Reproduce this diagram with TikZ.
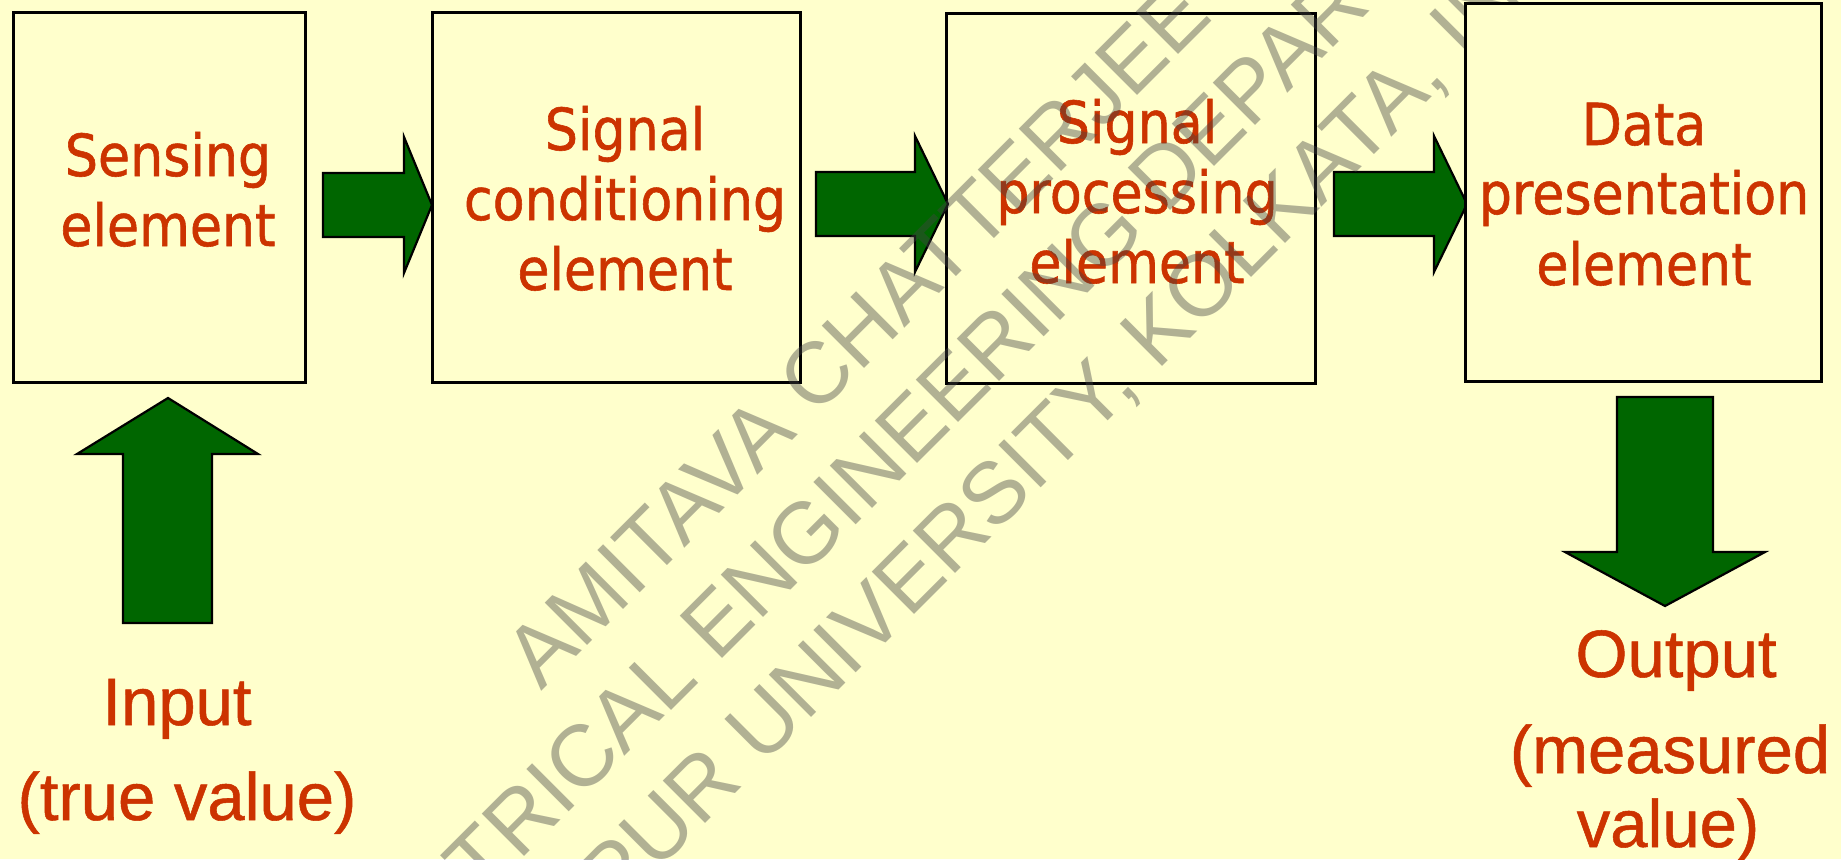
\documentclass[tikz,border=0pt]{standalone}
\usepackage{fontspec}
\setmainfont{DejaVu Sans}
\newfontfamily\boxf[FakeStretch=0.9,FakeBold=1]{DejaVu Sans}
\newfontfamily\arialf[FakeBold=0.8]{Liberation Sans}
\newfontfamily\wmf{Liberation Sans}
\definecolor{bgc}{RGB}{255,255,204}
\definecolor{txt}{RGB}{204,51,0}
\definecolor{grn}{RGB}{0,102,0}
\definecolor{wmc}{RGB}{67,67,67}
\begin{document}
\begin{tikzpicture}[x=1pt,y=-1pt,
  box/.style={draw=black, line width=3pt, fill=bgc, rectangle, inner sep=0pt},
  lbl/.style={text=txt, font=\boxf\fontsize{58}{70}\selectfont, anchor=base, inner sep=0pt},
  io/.style={text=txt, font=\arialf\fontsize{67}{80}\selectfont, anchor=base, inner sep=0pt},
  barrow/.style={fill=grn, draw=black, line width=2.2pt, line join=miter},
  wm/.style={text=wmc, text opacity=0.41, font=\wmf\fontsize{87}{100}\selectfont, rotate=45, anchor=base, inner sep=0pt}]
\fill[bgc] (0,0) rectangle (1841,859);
% boxes 1-3
\node[box, minimum width=292pt, minimum height=369pt] (b1) at (159,197.5) {};
\node[box, minimum width=368pt, minimum height=369pt] (b2) at (616,197.5) {};
\node[box, minimum width=369pt, minimum height=369pt] (b3) at (1130.5,198.5) {};
\node[lbl] (t1a) at (168,176) {Sensing};
\node[lbl] (t1b) at (168,246) {element};
\node[lbl] (t2a) at (625,150) {Signal};
\node[lbl] (t2b) at (625,220) {conditioning};
\node[lbl] (t2c) at (625,290) {element};
\node[lbl] (t3a) at (1137,143) {Signal};
\node[lbl] (t3b) at (1137,213) {processing};
\node[lbl] (t3c) at (1137,283) {element};
% right arrows
\newcommand\rarr[4]{\draw[barrow] (#1,#2) -- (#1-#4,#2-68) -- (#1-#4,#2-32) -- (#1-#3,#2-32) -- (#1-#3,#2+32) -- (#1-#4,#2+32) -- (#1-#4,#2+68) -- cycle;}
\rarr{432}{205}{109}{28}
\rarr{948}{204}{132}{33}
\rarr{1467}{204}{133}{33}
% input arrow
\draw[barrow] (168,398) -- (258,454) -- (212,454) -- (212,623) -- (123,623) -- (123,454) -- (77,454) -- cycle;
\node[io] (in1) at (177,725) {Input};
\node[io] (in2) at (187,820) {(true value)};
% watermark
\begin{scope}
\clip (0,0) rectangle (1841,859);
\node[wm] (w1) at (878,355) {AMITAVA CHATTERJEE};
\node[wm] (w2) at (952,429) {ELECTRICAL ENGINEERING DEPARTMENT};
\node[wm] (w3) at (1026,503) {JADAVPUR UNIVERSITY, KOLKATA, INDIA};
\end{scope}
% box 4
\node[box, minimum width=356pt, minimum height=377pt] (b4) at (1643,192.5) {};
\node[lbl] (t4a) at (1644,145) {Data};
\node[lbl] (t4b) at (1644,214) {presentation};
\node[lbl] (t4c) at (1644,285) {element};
% output arrow
\draw[barrow] (1665,606) -- (1765,552) -- (1713,552) -- (1713,397) -- (1617,397) -- (1617,552) -- (1565,552) -- cycle;
\node[io] (o1) at (1676,677) {Output};
\node[io] (o2) at (1670,773) {(measured};
\node[io] (o3) at (1668,847) {value)};
\pgfresetboundingbox
\useasboundingbox (0,0) rectangle (1841,859);
\end{tikzpicture}
\end{document}
